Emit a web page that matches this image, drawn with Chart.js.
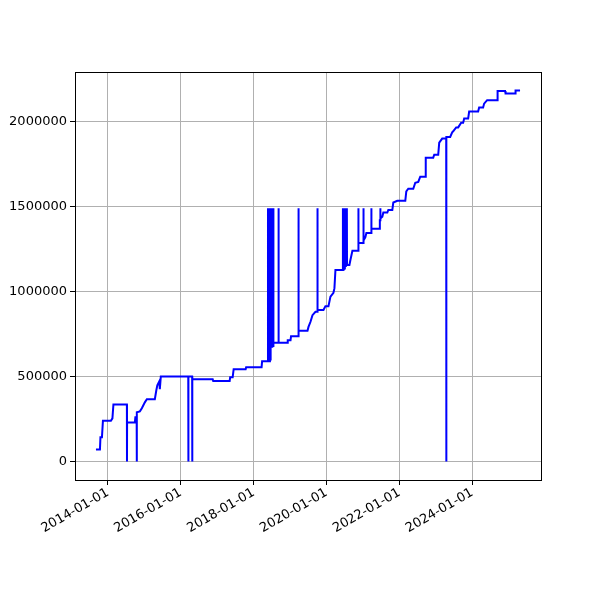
<!DOCTYPE html>
<html>
<head>
<meta charset="utf-8">
<script src="https://cdn.jsdelivr.net/npm/chart.js@4/dist/chart.umd.min.js"></script>
<style>
  html, body { margin: 0; padding: 0; background: #fff; }
  canvas { display: block; }
</style>
</head>
<body>
<canvas id="grafico" width="600" height="600"></canvas>
<script>
const dates = [
  "2013-09-03", "2013-10-13", "2013-10-18", "2013-11-02", "2013-11-12", "2014-01-31", "2014-02-15", "2014-02-25",
  "2014-07-10", "2014-07-11", "2014-07-12", "2014-09-28", "2014-10-03", "2014-10-16", "2014-10-17", "2014-10-18",
  "2014-11-17", "2014-12-07", "2015-01-06", "2015-01-26", "2015-04-16", "2015-05-01", "2015-05-11", "2015-05-31",
  "2015-06-05", "2015-06-15", "2016-03-16", "2016-03-17", "2016-03-18", "2016-04-24", "2016-04-25", "2016-04-26",
  "2016-11-16", "2016-11-21", "2017-05-05", "2017-05-10", "2017-06-04", "2017-06-14", "2017-10-12", "2017-10-17",
  "2018-03-21", "2018-03-26",
  "2018-05-23", "2018-05-24", "2018-05-25", "2018-06-02", "2018-06-03", "2018-06-04", "2018-06-12", "2018-06-13",
  "2018-06-14", "2018-06-19", "2018-06-20", "2018-06-24", "2018-06-25", "2018-06-26", "2018-07-04", "2018-07-05",
  "2018-07-06", "2018-07-15", "2018-07-16", "2018-07-17", "2018-07-19", "2018-09-06", "2018-09-07", "2018-09-08",
  "2018-12-03", "2018-12-08", "2019-01-05", "2019-01-10", "2019-03-25", "2019-03-26", "2019-03-27", "2019-06-24",
  "2019-07-04", "2019-07-24", "2019-08-13", "2019-09-12", "2019-10-01", "2019-10-02", "2019-10-03", "2019-12-01",
  "2019-12-21", "2020-01-20", "2020-02-09", "2020-03-10", "2020-03-20", "2020-03-30", "2020-06-12",
  "2020-06-13", "2020-06-14", "2020-06-22", "2020-06-23", "2020-06-24", "2020-07-02", "2020-07-03", "2020-07-04",
  "2020-07-12", "2020-07-13", "2020-07-14", "2020-07-22", "2020-07-23", "2020-07-24", "2020-08-17", "2020-08-27",
  "2020-09-16", "2020-11-14", "2020-11-15", "2020-11-16", "2021-01-04", "2021-01-05", "2021-01-06", "2021-01-24",
  "2021-02-03", "2021-03-24", "2021-03-25", "2021-03-26", "2021-06-13", "2021-06-18", "2021-06-22", "2021-06-23",
  "2021-06-24", "2021-07-13", "2021-07-23", "2021-09-01", "2021-09-11", "2021-10-21", "2021-10-31", "2021-12-10",
  "2022-02-28", "2022-03-10", "2022-03-30", "2022-05-19", "2022-06-08", "2022-07-08", "2022-07-28", "2022-09-16",
  "2022-09-21", "2022-12-05", "2022-12-15", "2023-01-24", "2023-02-03", "2023-03-05", "2023-04-14", "2023-04-15",
  "2023-04-16", "2023-05-24", "2023-06-13", "2023-06-23", "2023-07-23", "2023-08-12", "2023-09-11", "2023-10-01",
  "2023-10-11", "2023-11-20", "2023-11-30", "2024-02-28", "2024-03-09", "2024-04-18", "2024-04-28", "2024-05-28",
  "2024-09-05", "2024-09-10", "2024-11-24", "2024-11-29", "2025-03-04", "2025-03-09", "2025-04-23"
];

const values = [
  71000, 71000, 142000, 142000, 240000, 240000, 254000, 336000,
  336000, 0, 230000, 230000, 260000, 260000, 0, 290000,
  295000, 313000, 348000, 366000, 366000, 419000, 448000, 472000,
  425000, 500000, 500000, 0, 500000, 500000, 0, 484000,
  484000, 474000, 474000, 496000, 496000, 543000, 543000, 555000,
  555000, 590000,
  590000, 1490000, 590000, 590000, 1490000, 590000, 590000, 1490000,
  600000, 600000, 675000, 675000, 1490000, 675000, 675000, 1490000,
  680000, 680000, 1490000, 690000, 698000, 698000, 1490000, 698000,
  698000, 714000, 714000, 737000, 737000, 1490000, 769000, 769000,
  792000, 822000, 861000, 881000, 881000, 1490000, 891000, 891000,
  914000, 914000, 970000, 993000, 1020000, 1127000, 1127000,
  1490000, 1130000, 1130000, 1490000, 1135000, 1135000, 1490000, 1150000,
  1150000, 1490000, 1156000, 1156000, 1490000, 1156000, 1156000, 1186000,
  1240000, 1240000, 1490000, 1286000, 1286000, 1490000, 1300000, 1320000,
  1345000, 1345000, 1490000, 1370000, 1370000, 1420000, 1420000, 1490000,
  1430000, 1440000, 1465000, 1465000, 1480000, 1480000, 1524000, 1534000,
  1534000, 1590000, 1605000, 1605000, 1640000, 1645000, 1676000, 1676000,
  1788000, 1788000, 1805000, 1805000, 1876000, 1900000, 1900000, 0,
  1910000, 1910000, 1937000, 1943000, 1966000, 1966000, 1994000, 1994000,
  2018000, 2018000, 2059000, 2059000, 2083000, 2083000, 2106000, 2126000,
  2126000, 2180000, 2180000, 2165000, 2165000, 2183000, 2183000
];

const xTickDates = ["2014-01-01", "2016-01-01", "2018-01-01", "2020-01-01", "2022-01-01", "2024-01-01"];
const yTicks = [0, 500000, 1000000, 1500000, 2000000];

const paraMs = (s) => Date.parse(s + "T00:00:00Z");

function formatarData(ms) {
  const d = new Date(ms);
  const mes = String(d.getUTCMonth() + 1).padStart(2, "0");
  const dia = String(d.getUTCDate()).padStart(2, "0");
  return `${d.getUTCFullYear()}-${mes}-${dia}`;
}

const moldura = {
  id: "moldura",
  afterDraw(chart) {
    const { ctx, chartArea: a } = chart;
    ctx.save();
    ctx.strokeStyle = "#000";
    ctx.lineWidth = 1;
    ctx.strokeRect(Math.round(a.left) + 0.5, Math.round(a.top) + 0.5, Math.round(a.right - a.left), Math.round(a.bottom - a.top));
    ctx.restore();
  }
};

Chart.defaults.font.family = "'DejaVu Sans', sans-serif";
Chart.defaults.font.size = 13;
Chart.defaults.color = "#000";

new Chart(document.getElementById("grafico"), {
  type: "line",
  data: {
    datasets: [{
      data: dates.map((d, i) => ({ x: paraMs(d), y: values[i] })),
      borderColor: "#0000ff",
      borderWidth: 2,
      pointRadius: 0,
      fill: false,
      tension: 0
    }]
  },
  options: {
    responsive: false,
    animation: false,
    layout: { padding: { top: 72, right: 59, left: 0, bottom: 0 } },
    plugins: { legend: { display: false }, tooltip: { enabled: false } },
    scales: {
      x: {
        type: "linear",
        min: paraMs("2013-02-05"),
        max: paraMs("2025-11-19"),
        afterBuildTicks: (s) => { s.ticks = xTickDates.map((d) => ({ value: paraMs(d) })); },
        afterFit: (s) => { s.height = 120; },
        ticks: { callback: (v) => formatarData(v), minRotation: 30, maxRotation: 30, padding: 0, autoSkip: false },
        grid: { color: "#b0b0b0", lineWidth: 1, tickColor: "#000", tickLength: 5 },
        border: { display: false }
      },
      y: {
        min: -109000,
        max: 2292000,
        afterBuildTicks: (s) => { s.ticks = yTicks.map((v) => ({ value: v })); },
        afterFit: (s) => { s.width = 75; },
        ticks: { callback: (v) => String(v), padding: 3 },
        grid: { color: "#b0b0b0", lineWidth: 1, tickColor: "#000", tickLength: 5 },
        border: { display: false }
      }
    }
  },
  plugins: [moldura]
});
</script>
</body>
</html>
